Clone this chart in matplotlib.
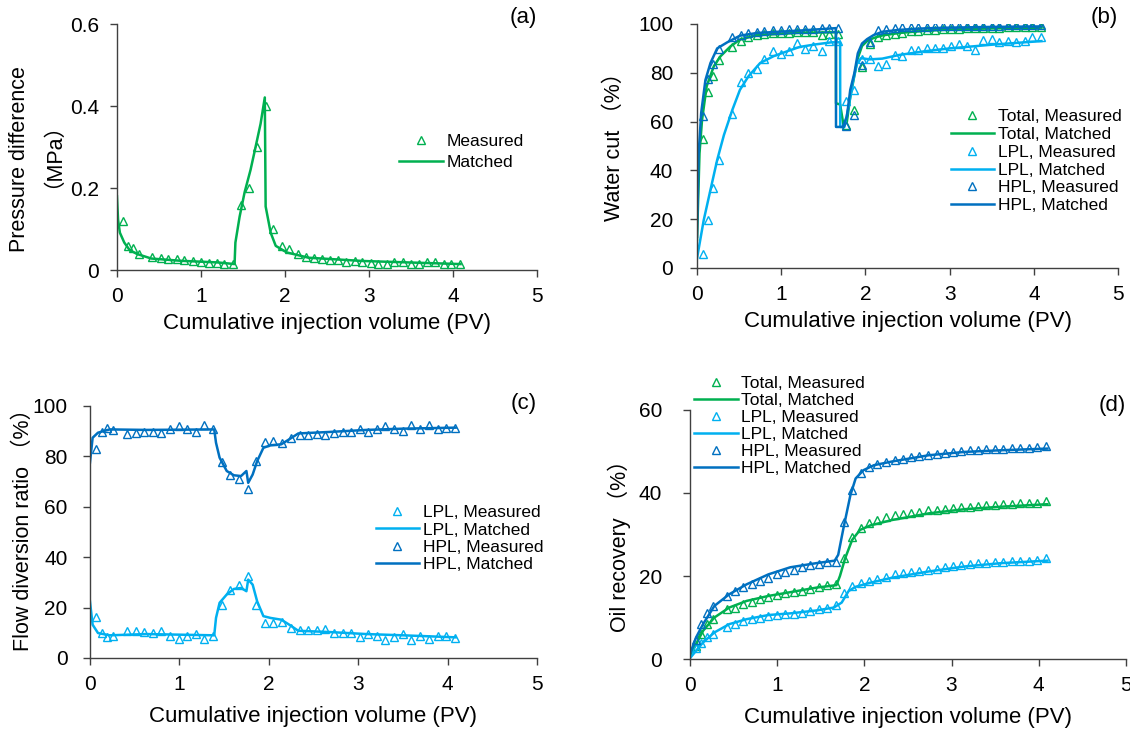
import matplotlib
matplotlib.use("Agg")
import matplotlib.pyplot as plt
from matplotlib.ticker import FuncFormatter

plt.rcParams['font.family'] = ['Liberation Sans', 'Noto Sans CJK SC']

GREEN = '#00B050'
LIGHT = '#00B0F0'
DARK = '#0070C0'

# measured sampling points (PV), shared by all panels
pv_meas = [0.07, 0.13, 0.19, 0.26, 0.42, 0.52, 0.61, 0.71, 0.80, 0.90,
           1.00, 1.09, 1.19, 1.28, 1.38, 1.48, 1.57, 1.67, 1.77, 1.86,
           1.96, 2.05, 2.15, 2.25, 2.35, 2.44, 2.54, 2.63, 2.73, 2.83,
           2.92, 3.02, 3.11, 3.21, 3.30, 3.40, 3.50, 3.59, 3.69, 3.79,
           3.89, 3.98, 4.08]

# (a) pressure difference, MPa
dp_meas = [0.119, 0.059, 0.053, 0.040, 0.031, 0.029, 0.028, 0.027, 0.025, 0.022,
           0.019, 0.018, 0.016, 0.0145, 0.0137, 0.159, 0.20, 0.30, 0.399, 0.10,
           0.059, 0.051, 0.040, 0.031, 0.030, 0.026, 0.025, 0.025, 0.020, 0.021,
           0.019, 0.018, 0.015, 0.014, 0.019, 0.019, 0.015, 0.015, 0.020, 0.020,
           0.014, 0.014, 0.0145]
pv_dp_fit = [0, 0.013, 0.035, 0.087, 0.15, 0.24, 0.41, 0.76, 1.2, 1.40, 1.41, 1.46,
             1.52, 1.59, 1.65, 1.71, 1.76, 1.77, 1.83, 1.89, 2.02, 2.28, 2.93, 4.09]
dp_fit = [0.18, 0.123, 0.091, 0.067, 0.049, 0.039, 0.028, 0.0225, 0.0185, 0.0145,
          0.067, 0.13, 0.19, 0.244, 0.30, 0.357, 0.421, 0.155, 0.091, 0.059, 0.043,
          0.030, 0.022, 0.0145]

# (b) water cut, %
total_wc_meas = [52.9, 72, 78.6, 85.4, 90.7, 93.2, 94.5, 95.4, 95.9, 96.2,
                 96.3, 96.5, 96.6, 96.6, 96.8, 95.4, 96, 96, 58.5, 64.8,
                 82.3, 92, 94.5, 95.5, 96, 96.5, 97, 97.3, 97.5, 97.7,
                 97.8, 98, 98, 98.2, 98.3, 98.4, 98.5, 98.5, 98.6, 98.6,
                 98.7, 98.7, 98.7]
lpl_wc_meas = [5.6, 19.5, 32.9, 44.1, 63.2, 76.1, 79.8, 81.6, 85.7, 88.8,
               87.7, 88.8, 92.1, 89.8, 90.9, 88.8, 92.9, 92.9, 68.6, 73,
               85.7, 85.7, 82.7, 83.6, 87.3, 87, 89.4, 89.4, 90.2, 90.2,
               90.2, 90.9, 91.8, 90.9, 89.4, 93.5, 93.9, 92.5, 93.2, 92.5,
               93.2, 94.5, 94.5]
hpl_wc_meas = [62.2, 77.5, 83.6, 89.8, 94.5, 95.5, 96.2, 96.8, 97.2, 97.5,
               97.7, 97.8, 97.9, 98, 98.1, 98.2, 98.3, 98.5, 58, 62.5,
               83, 92.6, 97.7, 98, 98.3, 98.6, 98.7, 98.8, 98.9, 99,
               99, 99.1, 99.1, 99.2, 99.2, 99.3, 99.3, 99.3, 99.4, 99.4,
               99.5, 99.5, 99.5]
pv_total_wc_fit = [0, 0.03, 0.06, 0.115, 0.2, 0.28, 0.4, 0.51, 0.71, 1.22, 1.65, 1.651,
                   1.70, 1.74, 1.78, 1.82, 1.87, 1.91, 1.96, 2.02, 2.1, 2.2, 2.4, 2.7,
                   3.0, 3.5, 4.09]
total_wc_fit = [11.5, 47, 60.7, 74.5, 82.7, 86.8, 90.9, 93.6, 95.4, 96.4, 96.6, 67.5,
                67, 58.5, 60, 70, 79, 86, 91, 93, 94.3, 95.3, 96.3, 97.2,
                97.7, 98.2, 98.5]
pv_lpl_wc_fit = [0, 0.08, 0.16, 0.24, 0.32, 0.42, 0.51, 0.61, 0.75, 0.91, 1.07, 1.22,
                 1.4, 1.6, 1.70, 1.701, 1.75, 1.8, 1.85, 1.9, 1.95, 2.05, 2.2, 2.4,
                 2.7, 3.0, 3.5, 4.09]
lpl_wc_fit = [3.9, 19.6, 32, 44.3, 54.5, 64.8, 73, 78.5, 84, 86.8, 88.8, 90.6,
              91.6, 92.5, 92.5, 57.8, 57.8, 66, 76, 84, 86, 85.5, 85.8, 87.3,
              88.8, 90, 91.5, 93]
pv_hpl_wc_fit = [0, 0.02, 0.05, 0.1, 0.16, 0.24, 0.36, 0.51, 0.71, 1.22, 1.65, 1.651,
                 1.73, 1.78, 1.82, 1.87, 1.91, 1.96, 2.02, 2.1, 2.2, 2.4, 2.7, 3.0,
                 3.5, 4.09]
hpl_wc_fit = [12.8, 47, 63.6, 77, 84, 90, 92.5, 95.2, 96.3, 97.3, 98.3, 57.8,
              57.8, 62, 73, 80, 88, 92, 93.8, 95.5, 96.8, 97.6, 98.2, 98.5,
              98.8, 99]

# (c) flow diversion ratio, %
lpl_fd_meas = [16.3, 9.9, 8.2, 8.9, 10.9, 10.6, 10.3, 9.9, 10.6, 8.6,
               7.7, 8.9, 9.7, 7.5, 8.6, 21.2, 26.8, 28.9, 32.5, 21.2,
               13.9, 13.9, 14.3, 11.9, 11.3, 11.3, 11.3, 11.5, 9.9, 9.9,
               9.9, 8.2, 9.5, 8.9, 7.3, 8.2, 9.5, 7.3, 8.6, 7.5,
               8.6, 8.6, 7.9]
hpl_fd_meas = [83, 89.8, 91.4, 90.5, 88.7, 89.4, 89.7, 89.8, 89.3, 90.7,
               92, 90.7, 89.8, 92.3, 90.7, 77.9, 72.8, 70.9, 66.9, 78.1,
               85.7, 86.1, 85.4, 87.4, 88.5, 88.5, 89, 88.5, 89.4, 89.7,
               89.7, 91, 89.8, 90.7, 92, 91, 90, 92.5, 91, 92.3,
               90.7, 91.1, 91.4]
pv_fd_fit = [0, 0.03, 0.09, 0.22, 0.63, 1.39, 1.41, 1.45, 1.53, 1.61, 1.69, 1.75,
             1.77, 1.82, 1.87, 1.94, 2.02, 2.14, 2.23, 2.33, 2.68, 3.09, 3.5, 4.09]
lpl_fd_fit = [22.5, 13.2, 9.9, 9, 9.5, 9, 15.9, 21.9, 25.2, 27.4, 27.8, 26.5,
              31.1, 29.1, 22.5, 16.6, 15.9, 15.2, 13.2, 10.8, 10.3, 9.5, 9, 8.2]
hpl_fd_fit = [77.5, 87.4, 89.4, 90.7, 90.5, 90.7, 85.4, 79.5, 74.2, 72.5, 72.2, 74.2,
              69.5, 72.8, 78.1, 83.4, 84.4, 84.8, 86.8, 89.1, 89.7, 90.5, 91, 91.4]

# (d) oil recovery, %
total_rec_meas = [3.2, 6, 8.4, 9.6, 12, 12.4, 13.2, 13.8, 14.5, 15,
                  15.4, 15.8, 16.1, 16.5, 16.9, 17.4, 17.8, 18.1, 24.3, 29.3,
                  31.5, 32.7, 33.5, 34.1, 34.6, 34.9, 35.3, 35.5, 35.8, 35.9,
                  36.2, 36.3, 36.6, 36.7, 36.9, 37, 37.1, 37.3, 37.4, 37.5,
                  37.7, 37.7, 38.1]
lpl_rec_meas = [2.6, 3.8, 5.2, 6.1, 7.8, 8.4, 9.2, 9.6, 10, 10.4,
                10.6, 10.8, 10.9, 11.1, 11.6, 12, 12.4, 12.9, 15.8, 17.6,
                18.4, 18.8, 19.2, 19.7, 20.4, 20.8, 21, 21.3, 21.5, 21.8,
                22.1, 22.3, 22.6, 22.9, 23.1, 23.2, 23.3, 23.4, 23.5, 23.5,
                23.7, 23.8, 24.3]
hpl_rec_meas = [4.5, 8.4, 11, 12.8, 15.2, 16.4, 17.4, 18, 18.8, 19.6,
                20.4, 20.9, 21.5, 22.1, 22.6, 23, 23.3, 23.3, 33, 40.7,
                44.7, 46.3, 46.9, 47.5, 47.9, 48.3, 48.7, 48.9, 49.2, 49.5,
                49.7, 49.9, 50, 50.3, 50.4, 50.5, 50.7, 50.7, 50.8, 50.8,
                50.9, 51.1, 51.3]
pv_total_rec_fit = [0, 0.07, 0.15, 0.28, 0.45, 0.65, 0.9, 1.15, 1.45, 1.68, 1.72, 1.78,
                    1.86, 1.95, 2.07, 2.32, 2.74, 3.15, 3.57, 4.1]
total_rec_fit = [0.8, 3.6, 6.8, 10, 12.4, 14, 15.2, 16.1, 17.2, 17.8, 20, 24.3,
                 28.7, 31.1, 32.2, 33.5, 35.1, 36.1, 36.7, 37.3]
pv_lpl_rec_fit = [0, 0.07, 0.15, 0.28, 0.45, 0.65, 0.9, 1.15, 1.45, 1.65, 1.74, 1.82,
                  1.9, 2.07, 2.32, 2.74, 3.15, 3.57, 4.1]
lpl_rec_fit = [0.2, 2, 4, 6.4, 8.4, 9.6, 10.6, 11, 11.7, 12.4, 13.6, 16.4,
               17.4, 18.4, 19.6, 21.1, 22.3, 23.1, 23.7]
pv_hpl_rec_fit = [0, 0.07, 0.15, 0.28, 0.45, 0.65, 0.9, 1.15, 1.45, 1.66, 1.7, 1.76,
                  1.84, 1.9, 1.99, 2.11, 2.32, 2.74, 3.15, 3.57, 4.1]
hpl_rec_fit = [1.2, 5.2, 8.4, 12.8, 15.6, 18, 20.4, 22.1, 23.1, 23.7, 25.1, 31.5,
               39.5, 43.5, 45.5, 46.7, 47.6, 49.1, 49.9, 50.3, 50.7]

XLABEL = 'Cumulative injection volume (PV)'
TICK_FS = 15
LABEL_FS = 16
YLABEL_FS = 15.5
LEG_FS = 12.5

fig = plt.figure(figsize=(11.3, 7.29), dpi=100)
ax_a = fig.add_axes([0.1035, 0.6296, 0.3717, 0.3374])
ax_b = fig.add_axes([0.6168, 0.6324, 0.3726, 0.3347])
ax_c = fig.add_axes([0.0796, 0.0974, 0.3956, 0.3457])
ax_d = fig.add_axes([0.6106, 0.0960, 0.3858, 0.3416])


def style(ax, ylim, yticks, ypad, tag, tag_y, xpad):
    ax.set_xlim(0, 5)
    ax.set_ylim(*ylim)
    ax.set_xticks([0, 1, 2, 3, 4, 5])
    ax.set_yticks(yticks)
    ax.yaxis.set_major_formatter(FuncFormatter(lambda v, p: '%g' % v))
    for s in ['top', 'right']:
        ax.spines[s].set_visible(False)
    for s in ['left', 'bottom']:
        ax.spines[s].set_color('#404040')
        ax.spines[s].set_linewidth(1.0)
    ax.tick_params(axis='x', direction='out', length=5, width=1, color='#404040',
                   labelsize=TICK_FS, pad=7)
    ax.tick_params(axis='y', direction='out', length=5, width=1, color='#404040',
                   labelsize=TICK_FS, pad=ypad)
    ax.set_xlabel(XLABEL, fontsize=LABEL_FS, labelpad=xpad)
    ax.text(1.0, tag_y, tag, transform=ax.transAxes, ha='right', va='center',
            fontsize=LABEL_FS)


def meas(ax, x, y, c, label):
    return ax.plot(x, y, linestyle='none', marker='^', markersize=6,
                   markerfacecolor='none', markeredgecolor=c, markeredgewidth=1.0,
                   label=label)[0]


def fit(ax, x, y, c, label):
    return ax.plot(x, y, color=c, linewidth=1.8, label=label)[0]


def legend(ax, handles, labels, anchor, spacing):
    ax.legend(handles, labels, loc='upper left', bbox_to_anchor=anchor,
              frameon=False, fontsize=LEG_FS, handlelength=2.5,
              handletextpad=0.2, labelspacing=spacing, borderpad=0)


# (a)
f0 = fit(ax_a, pv_dp_fit, dp_fit, GREEN, 'Matched')
m0 = meas(ax_a, pv_meas, dp_meas, GREEN, 'Measured')
style(ax_a, (0, 0.6), [0, 0.2, 0.4, 0.6], 8, '(a)', 1.025, 5)
ax_a.set_ylabel('Pressure difference', fontsize=YLABEL_FS, va='center')
ax_a.yaxis.set_label_coords(-0.231, 0.452)
ax_a.text(-0.178, 0.51, '（MPa）', transform=ax_a.transAxes, rotation=90,
          ha='center', va='center', fontsize=YLABEL_FS)
legend(ax_a, [m0, f0], ['Measured', 'Matched'], (0.652, 0.587), 0.33)

# (b)
f1 = fit(ax_b, pv_total_wc_fit, total_wc_fit, GREEN, 'Total, Matched')
m1 = meas(ax_b, pv_meas, total_wc_meas, GREEN, 'Total, Measured')
f2 = fit(ax_b, pv_lpl_wc_fit, lpl_wc_fit, LIGHT, 'LPL, Matched')
m2 = meas(ax_b, pv_meas, lpl_wc_meas, LIGHT, 'LPL, Measured')
f3 = fit(ax_b, pv_hpl_wc_fit, hpl_wc_fit, DARK, 'HPL, Matched')
m3 = meas(ax_b, pv_meas, hpl_wc_meas, DARK, 'HPL, Measured')
style(ax_b, (0, 100), [0, 20, 40, 60, 80, 100], 12, '(b)', 1.025, 5)
ax_b.set_ylabel('Water cut （%）', fontsize=YLABEL_FS, va='center')
ax_b.yaxis.set_label_coords(-0.195, 0.518)
legend(ax_b, [m1, f1, m2, f2, m3, f3],
       ['Total, Measured', 'Total, Matched', 'LPL, Measured', 'LPL, Matched',
        'HPL, Measured', 'HPL, Matched'], (0.582, 0.686), 0.15)

# (c)
f2 = fit(ax_c, pv_fd_fit, lpl_fd_fit, LIGHT, 'LPL, Matched')
m2 = meas(ax_c, pv_meas, lpl_fd_meas, LIGHT, 'LPL, Measured')
f3 = fit(ax_c, pv_fd_fit, hpl_fd_fit, DARK, 'HPL, Matched')
m3 = meas(ax_c, pv_meas, hpl_fd_meas, DARK, 'HPL, Measured')
style(ax_c, (0, 100), [0, 20, 40, 60, 80, 100], 11, '(c)', 1.008, 9)
ax_c.set_ylabel('Flow diversion ratio （%）', fontsize=YLABEL_FS, va='center')
ax_c.yaxis.set_label_coords(-0.148, 0.528)
legend(ax_c, [m2, f2, m3, f3],
       ['LPL, Measured', 'LPL, Matched', 'HPL, Measured', 'HPL, Matched'],
       (0.62, 0.641), 0.12)

# (d)
f1 = fit(ax_d, pv_total_rec_fit, total_rec_fit, GREEN, 'Total, Matched')
m1 = meas(ax_d, pv_meas, total_rec_meas, GREEN, 'Total, Measured')
f2 = fit(ax_d, pv_lpl_rec_fit, lpl_rec_fit, LIGHT, 'LPL, Matched')
m2 = meas(ax_d, pv_meas, lpl_rec_meas, LIGHT, 'LPL, Measured')
f3 = fit(ax_d, pv_hpl_rec_fit, hpl_rec_fit, DARK, 'HPL, Matched')
m3 = meas(ax_d, pv_meas, hpl_rec_meas, DARK, 'HPL, Measured')
style(ax_d, (0, 60), [0, 20, 40, 60], 15, '(d)', 1.02, 9)
ax_d.set_ylabel('Oil recovery （%）', fontsize=YLABEL_FS, va='center')
ax_d.yaxis.set_label_coords(-0.162, 0.474)
legend(ax_d, [m1, f1, m2, f2, m3, f3],
       ['Total, Measured', 'Total, Matched', 'LPL, Measured', 'LPL, Matched',
        'HPL, Measured', 'HPL, Matched'], (-0.01, 1.172), 0.11)

fig.savefig('out.png', dpi=100)
